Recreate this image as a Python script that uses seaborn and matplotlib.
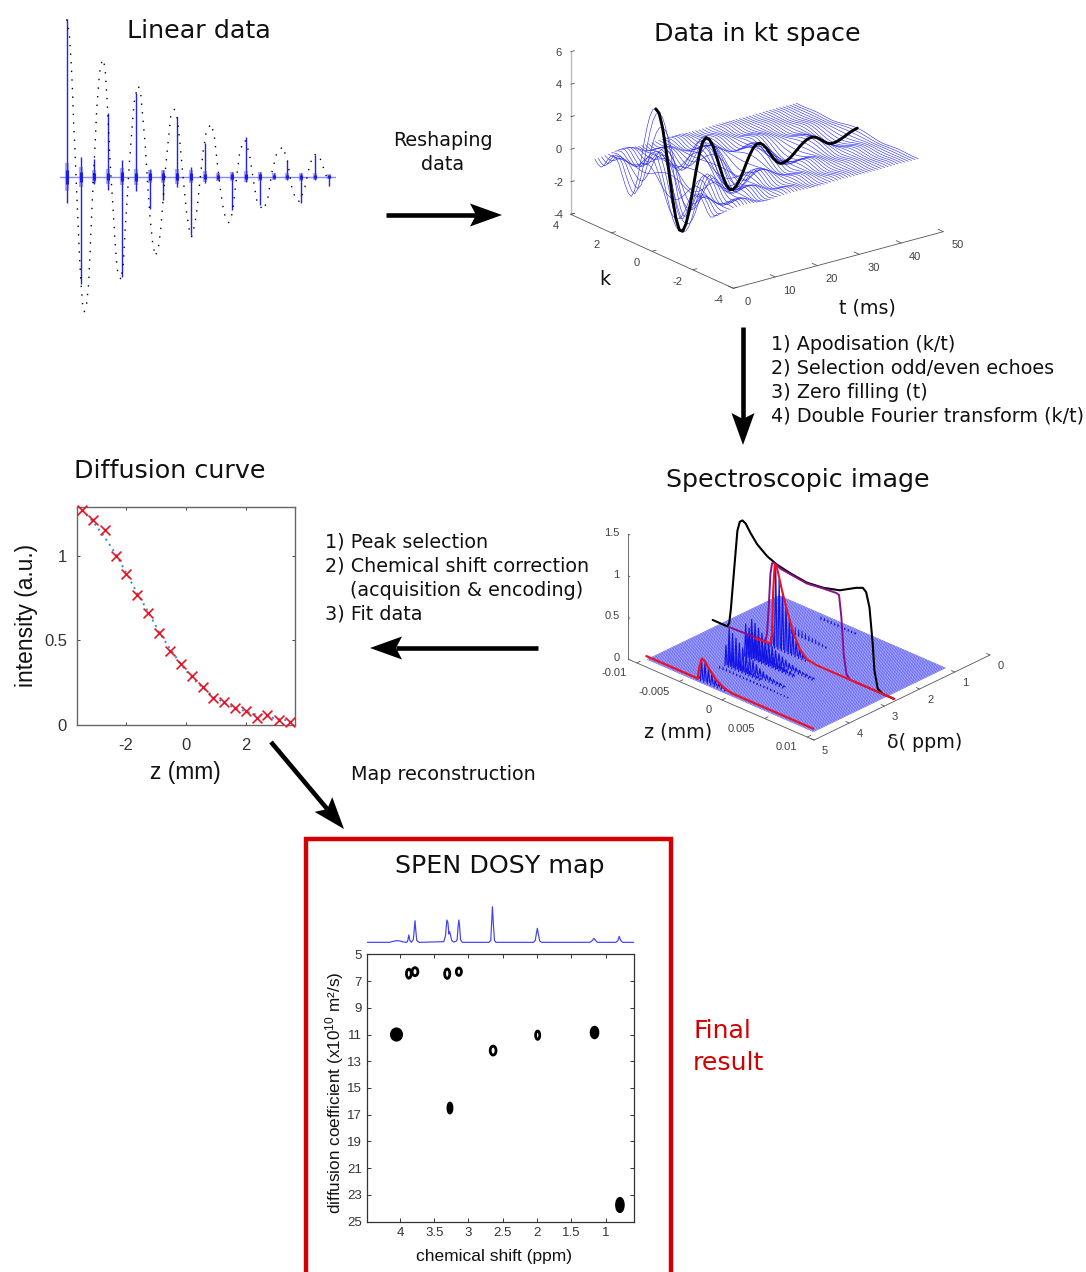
import numpy as np
import matplotlib
matplotlib.use("Agg")
import matplotlib.pyplot as plt
import seaborn as sns
from matplotlib.patches import Ellipse
from mpl_toolkits.mplot3d import proj3d

# ---------- data ----------
# Linear data
linear_t = [0,8,13,17,21,25,28,33,38,43,48,53,60,66,71,75,80,85,90,96,101,108,115,120,125,130,135,140,146,152,163,
            170,176,182,188,195,202,208,215,222,230,236,242,250,258,266,275,282,290,298,305,312,323,331,340,350,360,368,375,
            385,392,400,410,418,432,442,452,462,472,486,497,510,520,535,548,560,570,588,602,615,630,648,662,675,688,700,
            715,728,740,753,765,775,787]
linear_env = [472,430,350,270,160,80,0,-110,-230,-320,-385,-405,-380,-320,-210,-110,-10,90,200,280,330,352,330,250,160,50,-30,-110,-210,-280,-310,
              -260,-150,-60,40,130,220,250,272,250,160,90,-10,-120,-200,-238,-215,-160,-60,40,110,180,202,180,100,-10,-110,-160,-180,
              -140,-90,-10,80,130,158,130,40,-45,-110,-138,-110,0,80,110,70,-10,-70,-100,-75,10,70,90,50,-30,-70,-75,
              -30,30,65,68,45,10,-15]
echo_t = [0,42,83,125,165,208,250,289,330,372,414,455,496,538,580,622,662,703,745,787]
echo_up = [472,60,52,190,50,250,22,20,180,30,102,10,15,120,15,10,48,12,65,5]
echo_dn = [-78,-322,-22,-40,-300,-42,-98,-70,-32,-175,-20,-10,-100,-15,-85,-7,-10,-78,-10,-28]
echo_core = [42,30,20,22,26,24,20,20,22,20,16,12,14,16,14,10,10,12,10,8]
linear_base_t = [-20, 808]
linear_base_y = [0, 0]

# Data in kt space
kt_t = [0.9,1.7,2.5,3.3,4.1,4.9,5.7,6.5,7.3,8.1,8.9,9.7,10.5,11.3,12.1,12.9,13.7,14.5,15.3,16.1,16.9,17.7,18.5,19.3,20.1,20.9,21.7,22.5,23.3,24.1,24.9,
        25.7,26.5,27.3,28.1,28.9,29.7,30.5,31.3,32.1,32.9,33.7,34.5,35.3,36.1,36.9,37.7,38.5,39.3,40.1,40.9,41.7,42.5,43.3,44.1,44.9,45.7,46.5,47.3,48.1,48.9]
kt_amp = [4.70,4.37,3.44,2.06,0.46,-1.11,-2.38,-3.14,-3.28,-2.87,-2.04,-0.94,0.23,1.24,1.90,2.10,1.91,1.47,0.82,0.09,-0.61,-1.17,-1.49,-1.54,-1.37,-1.04,-0.61,-0.12,0.32,0.67,0.86,
          0.86,0.70,0.42,0.07,-0.28,-0.56,-0.72,-0.73,-0.66,-0.54,-0.365,-0.17,0.02,0.185,0.305,0.365,0.35,0.25,0.09,-0.09,-0.25,-0.34,-0.345,-0.31,-0.24,-0.147,-0.047,0.05,0.12,0.17]
kt_k = [-3.00,-2.85,-2.70,-2.55,-2.40,-2.25,-2.10,-1.95,-1.80,-1.65,-1.50,-1.35,-1.20,-1.05,-0.90,-0.75,-0.60,-0.45,-0.30,-0.15,0.00,
        0.15,0.30,0.45,0.60,0.75,0.90,1.05,1.20,1.35,1.50,1.65,1.80,1.95,2.10,2.25,2.40,2.55,2.70,2.85,3.00]
kt_shape = [-0.02,-0.07,-0.09,-0.05,0.03,0.10,0.14,0.12,0.05,-0.07,-0.18,-0.27,-0.29,-0.20,-0.02,0.20,0.45,0.68,0.86,0.97,1.00,
            0.97,0.86,0.68,0.45,0.20,-0.02,-0.20,-0.29,-0.27,-0.18,-0.07,0.05,0.12,0.14,0.10,0.03,-0.05,-0.09,-0.07,-0.02]
kt_t_ticks = [0,10,20,30,40,50]
kt_k_ticks = [4,2,0,-2,-4]
kt_z_ticks = [-4,-2,0,2,4,6]

# Spectroscopic image
si_line_ppm = 2.65
si_front_ppm = 4.66
black_z = [-0.0108,-0.00906,-0.00886,-0.00867,-0.00828,-0.00790,-0.00762,-0.00731,-0.00693,-0.00635,-0.00557,-0.00441,-0.00325,-0.00170,0.00024,0.00217,0.00411,0.00605,0.00682,0.00721,0.00760,0.00798,0.00818,0.00857,0.00915,0.0105]
black_h = [0,0,0.05,0.22,0.72,1.20,1.32,1.35,1.33,1.24,1.14,1.05,1.00,0.966,0.94,0.964,1.02,1.136,1.17,1.136,0.97,0.55,0.24,0.036,0,0]
magenta_z = [-0.0089,-0.00460,-0.00441,-0.00422,-0.00402,-0.00383,-0.00356,-0.00286,-0.0017,0.00024,0.00217,0.00372,0.00403,0.00430,0.00457,0.00489,0.00527,0.0105]
magenta_h = [0,0.02,0.13,0.45,0.86,0.99,1.01,0.97,0.955,0.93,0.955,0.97,0.96,0.71,0.28,0.054,0,0]
red_z = [-0.0058,-0.00402,-0.00383,-0.00371,-0.00352,-0.00325,-0.00267,-0.00209,-0.00131,-0.00054,0.00024,0.0014,0.0105]
red_h = [0,0.02,0.15,0.64,0.99,0.96,0.72,0.51,0.26,0.10,0.02,0,0]
front_z = [-0.01028,-0.00425,-0.00406,-0.00378,-0.00347,-0.00289,-0.00211,-0.00133,-0.00036,0.0093]
front_h = [0,0,0.15,0.26,0.25,0.17,0.08,0.03,0,0]
ridge_ppm = [4.66,4.05,3.87,3.78,3.31,3.27,3.14,2.65,2.0,1.17]
ridge_hw = [0.035,0.012,0.03,0.035,0.03,0.03,0.035,0.035,0.012,0.012]
ridge_lw = [0.9,0.55,0.9,0.9,0.9,0.9,0.9,0.9,0.55,0.55]
ridge_h = [
    [0.05,0.24,0.22,0.17,0.12,0.08,0.05,0.03,0.01],
    [0.03,0.03,0.03,0.03,0.03,0.02,0.02,0.02,0.02,0.02,0.02,0.02,0.02,0.02,0.02,0.02,0.02,0.01,0.01,0.01,0.01],
    [0.24,0.22,0.19,0.15,0.12,0.09,0.07,0.05,0.04,0.03,0.02],
    [0.42,0.38,0.34,0.30,0.26,0.22,0.19,0.16,0.13,0.10,0.08,0.06,0.05,0.04,0.03,0.03,0.02],
    [0.38,0.35,0.31,0.28,0.24,0.20,0.17,0.14,0.12,0.10,0.08,0.06,0.05,0.04,0.03],
    [0.24,0.20,0.18,0.15,0.12,0.10,0.08,0.06,0.05,0.04,0.03,0.02],
    [0.40,0.37,0.33,0.29,0.25,0.21,0.18,0.15,0.13,0.11,0.09,0.07,0.06,0.05,0.04,0.03,0.03,0.02,0.02],
    [0.02,0.30,0.95,0.83,0.70,0.55,0.41,0.28,0.19,0.11,0.06,0.02],
    [0.10,0.09,0.08,0.08,0.07,0.06,0.05,0.05,0.04,0.03,0.02],
    [0.03,0.03,0.03,0.03,0.03,0.03,0.03,0.02,0.02,0.02,0.02],
]
si_z_ticks = [-0.01,-0.005,0,0.005,0.01]
si_z_labels = ["-0.01","-0.005","0","0.005","0.01"]
si_ppm_ticks = [0,1,2,3,4,5]
si_h_ticks = [0,0.5,1,1.5]
si_h_labels = ["0","0.5","1","1.5"]

# Diffusion curve
diff_z = [-3.46,-3.09,-2.71,-2.34,-1.99,-1.63,-1.26,-0.90,-0.53,-0.17,0.19,0.56,0.91,1.27,1.63,2.00,2.36,2.71,3.09,3.47]
diff_i = [1.27,1.21,1.15,1.00,0.89,0.77,0.66,0.545,0.435,0.36,0.29,0.225,0.16,0.135,0.10,0.085,0.04,0.06,0.03,0.02]
diff_fit = [1.27,1.20,1.11,1.01,0.90,0.78,0.67,0.55,0.45,0.36,0.28,0.22,0.17,0.13,0.10,0.08,0.06,0.05,0.035,0.025]

# DOSY spectrum and map
spec_ppm = [4.476,4.15,4.10,4.05,4.00,3.95,3.90,3.885,3.87,3.855,3.835,3.805,3.79,3.78,3.77,3.755,3.72,3.36,3.335,3.315,3.30,3.285,3.275,3.26,3.245,3.22,3.18,
            3.165,3.15,3.14,3.13,3.115,3.09,2.70,2.675,2.665,2.65,2.635,2.62,2.60,2.05,2.025,2.01,1.995,1.98,1.96,1.93,1.23,1.19,1.17,1.15,1.12,0.85,0.82,0.80,0.78,0.75,0.58]
spec_int = [0,0,3,5,4,1,0,6,22,6,0,8,40,65,40,6,0,2,20,67,60,25,32,20,6,1,3,
            8,50,67,50,8,0,0,6,45,107,50,6,0,0,6,25,42,25,4,0,0,6,12,7,0,0,5,18,6,0,0]
dosy_ppm = [4.05,3.87,3.78,3.31,3.14,2.64,1.99,1.16,3.27,0.79]
dosy_d = [11.0,6.45,6.3,6.45,6.3,12.2,11.05,10.85,16.5,23.75]
dosy_w = [0.15,0.07,0.085,0.075,0.075,0.085,0.06,0.10,0.06,0.10]
dosy_h = [0.85,0.67,0.60,0.70,0.55,0.67,0.62,0.80,0.75,1.00]
dosy_filled = [True,False,False,False,False,False,False,True,True,True]
dosy_xticks = [4,3.5,3,2.5,2,1.5,1]
dosy_xlabels = ["4","3.5","3","2.5","2","1.5","1"]
dosy_yticks = [5,7,9,11,13,15,17,19,21,23,25]

# ---------- figure ----------
W, H = 1086, 1272
sns.set_theme(style="white", rc={"mathtext.default": "regular"})
plt.rcParams["font.family"] = ["DejaVu Sans"]
fig = plt.figure(figsize=(W / 100, H / 100), dpi=100, facecolor="white")


def rect(x0, y0, x1, y1):
    return [x0 / W, 1 - y1 / H, (x1 - x0) / W, (y1 - y0) / H]


bg = fig.add_axes([0, 0, 1, 1], zorder=10)
bg.set_xlim(0, W)
bg.set_ylim(H, 0)
bg.axis("off")
bg.patch.set_visible(False)

HEAD = 18.3
BODY = 13.8
DY = 1.5
for s, x, y, fs in [("Linear data", 199, 30, HEAD), ("Data in kt space", 757, 33, HEAD),
                    ("Spectroscopic image", 798, 479, HEAD), ("Diffusion curve", 170, 469, HEAD),
                    ("SPEN DOSY map", 500, 865, HEAD), ("Reshaping", 443, 139, BODY), ("data", 443, 163, BODY),
                    ("Map reconstruction", 443, 773, BODY)]:
    bg.text(x, y + DY, s, ha="center", va="center", fontsize=fs, color="#111111")
for s, x, y in [("1) Apodisation (k/t)", 771, 343), ("2) Selection odd/even echoes", 771, 367),
                ("3) Zero filling (t)", 771, 391), ("4) Double Fourier transform (k/t)", 771, 415),
                ("1) Peak selection", 325, 541), ("2) Chemical shift correction", 325, 565),
                ("(acquisition & encoding)", 350, 589), ("3) Fit data", 325, 613)]:
    bg.text(x, y + DY, s, ha="left", va="center", fontsize=BODY, color="#111111")
for s, x, y in [("Final", 693, 1029), ("result", 693, 1061)]:
    bg.text(x, y + DY, s, ha="left", va="center", fontsize=18.2, color="#d40000")
for s, x, y in [("k", 605, 278), ("t (ms)", 867, 306), ("z (mm)", 678, 730), ("δ( ppm)", 925, 741)]:
    bg.text(x, y + DY, s, ha="center", va="center", fontsize=13.7, color="#111111")


def arrow(p0, p1):
    p0 = np.array(p0, float)
    p1 = np.array(p1, float)
    u = (p1 - p0) / np.linalg.norm(p1 - p0)
    n = np.array([-u[1], u[0]])
    bg.plot([p0[0], (p1 - 26 * u)[0]], [p0[1], (p1 - 26 * u)[1]], color="black", lw=3.3, solid_capstyle="butt")
    poly = np.array([p1, p1 - 32 * u + 11.5 * n, p1 - 26 * u, p1 - 32 * u - 11.5 * n])
    bg.fill(poly[:, 0], poly[:, 1], color="black", lw=0)


for p0, p1 in [((386, 215), (502, 215)), ((743, 327), (743, 445)), ((538, 648), (370, 648)), ((271, 742), (344, 829))]:
    arrow(p0, p1)
bg.plot([305.5, 305.5, 670.5, 670.5], [1272, 839, 839, 1272], color="#d40000", lw=3.2,
        solid_joinstyle="miter")

# ---------- Linear data ----------
ax = fig.add_axes(rect(60, 15, 336, 315))
ax.set_xlim(-20, 808)
ax.set_ylim(-415, 485)
sns.lineplot(x=linear_base_t, y=linear_base_y, ax=ax, color="#8a8af5", linewidth=1.0, estimator=None)
ax.vlines(echo_t, echo_dn, echo_up, color="#2222ea", lw=1.0)
ax.vlines(echo_t, -np.array(echo_core), echo_core, color="#4444f0", lw=3.0, alpha=0.45)
ax.vlines(echo_t, -0.5 * np.array(echo_core), 0.5 * np.array(echo_core), color="#1c1ce6", lw=2.2)
sns.lineplot(x=linear_t, y=linear_env, ax=ax, color="black", linewidth=1.0, linestyle=(0, (1, 5.2)),
             estimator=None, sort=False)
ax.set_xlabel("")
ax.set_ylabel("")
ax.set_xticks([])
ax.set_yticks([])
ax.axis("off")


# ---------- 3D helper ----------
def place3d(a, pts3d, pts_px):
    pts3d = np.array(pts3d, float)
    pts_px = np.array(pts_px, float)

    def disp():
        a.apply_aspect()
        xx, yy, _ = proj3d.proj_transform(pts3d[:, 0], pts3d[:, 1], pts3d[:, 2], a.get_proj())
        d = a.transData.transform(np.c_[xx, yy])
        d[:, 1] = H - d[:, 1]
        return d

    S = 500.0
    a.set_position(rect(100, 100, 100 + S, 100 + S))
    d = disp()
    scale = np.linalg.norm(pts_px[1] - pts_px[2]) / np.linalg.norm(d[1] - d[2])
    S *= scale
    a.set_position(rect(100, 100, 100 + S, 100 + S))
    d = disp()
    sx, sy = (pts_px - d).mean(axis=0)
    a.set_position(rect(100 + sx, 100 + sy, 100 + sx + S, 100 + sy + S))
    a.apply_aspect()


def bare3d(a):
    a.set_axis_off()
    a.patch.set_visible(False)
    a.set_xticks([])
    a.set_yticks([])
    a.set_zticks([])


def label3d(a, x, y, z, s, ha="center"):
    xx, yy, _ = proj3d.proj_transform(x, y, z, a.get_proj())
    d = a.transData.transform((xx, yy))
    bg.text(d[0], H - d[1], s, ha=ha, va="center", fontsize=8, color="#404040", family="Liberation Sans")


# ---------- Data in kt space ----------
a3 = fig.add_axes(rect(500, 0, 1000, 500), projection="3d", proj_type="ortho", computed_zorder=False)
bare3d(a3)
a3.set_xlim(0, 50)
a3.set_ylim(-4, 4)
a3.set_zlim(-4, 6)
a3.view_init(elev=20.5, azim=-127.6)
a3.set_box_aspect((265, 266.6, 173.6))
place3d(a3, [(0, -4, -4), (50, -4, -4), (0, 4, -4)], [(733.3, 288.3), (943.3, 231.7), (570.7, 214.3)])
AX = "#555555"
a3.plot([0, 0], [4, 4], [-4, 6], color="#bbbbbb", lw=1.0, zorder=1)
a3.plot([0, 0], [4, -4], [-4, -4], color=AX, lw=0.6, zorder=1)
a3.plot([0, 50], [-4, -4], [-4, -4], color=AX, lw=0.6, zorder=1)
for v in kt_z_ticks:
    a3.plot([0, 0.9], [4, 4], [v, v], color=AX, lw=0.6, zorder=1)
    label3d(a3, -2.8, 4, v + 0.13, str(v))
for v in kt_k_ticks:
    a3.plot([0, 1.0], [v, v], [-4, -4], color=AX, lw=0.6, zorder=1)
    label3d(a3, -3.57, v, -4.49, str(v))
for v in kt_t_ticks:
    a3.plot([v, v], [-4, -3.75], [-4, -4], color=AX, lw=0.6, zorder=1)
    label3d(a3, v, -4.69, -4.45, str(v))
for ti, amp in zip(kt_t, kt_amp):
    a3.plot(np.full(len(kt_k), ti), kt_k, amp * np.array(kt_shape), color="#2a2af0", lw=0.42, zorder=2)
a3.plot(kt_t, np.zeros(len(kt_t)), kt_amp, color="black", lw=2.1, zorder=3, solid_joinstyle="round")

# ---------- Spectroscopic image ----------
s3 = fig.add_axes(rect(500, 400, 1000, 900), projection="3d", proj_type="ortho", computed_zorder=False)
bare3d(s3)
s3.set_xlim(0, 5)
s3.set_ylim(-0.0108, 0.0108)
s3.set_zlim(0, 1.5)
s3.view_init(elev=27.3, azim=43.5)
s3.set_box_aspect((255.6, 253.7, 140.6))
place3d(s3, [(5, -0.0108, 0), (5, 0.0108, 0), (0, 0.0108, 0)], [(630, 660), (814, 740), (990, 655)])
s3.plot([5, 5], [-0.0110, -0.0110], [0, 1.5], color=AX, lw=0.6, zorder=1)
s3.plot([5, 5], [-0.0108, 0.0108], [0, 0], color=AX, lw=0.6, zorder=1)
s3.plot([0, 5], [0.0108, 0.0108], [0, 0], color=AX, lw=0.6, zorder=1)
for v, lab in zip(si_h_ticks, si_h_labels):
    s3.plot([5, 5], [-0.0110, -0.0108], [v, v], color=AX, lw=0.6, zorder=1)
    label3d(s3, 5, -0.0120, v - 0.03, lab, ha="right")
for v, lab in zip(si_z_ticks, si_z_labels):
    s3.plot([5, 4.9], [v, v], [0, 0], color=AX, lw=0.6, zorder=1)
    label3d(s3, 5.28, v, -0.065, lab, ha="right")
for v in si_ppm_ticks:
    s3.plot([v, v], [0.0108, 0.0104], [0, 0], color=AX, lw=0.6, zorder=1)
    label3d(s3, v, 0.01205, -0.072, str(v))

plate_ppm = np.linspace(1.0, 4.75, 110)
plate_z = np.linspace(-0.0098, 0.0097, 110)
PX, PZ = np.meshgrid(plate_ppm, plate_z)
s3.plot_wireframe(PX, PZ, np.zeros_like(PX), rcount=110, ccount=110, color="#3a3af2", lw=0.3, zorder=1.5)

stem_z0 = -0.0042
stem_dz = 0.0004
for ppm, hw, lw, hs in zip(ridge_ppm, ridge_hw, ridge_lw, ridge_h):
    for j, h in enumerate(hs):
        zz = stem_z0 + j * stem_dz
        s3.plot([ppm - hw, ppm, ppm + hw], [zz, zz, zz], [0, h, 0], color="#1515e6", lw=lw, zorder=2)
s3.plot(np.full(len(black_z), si_line_ppm), black_z, black_h, color="black", lw=1.5, zorder=3)
s3.plot(np.full(len(magenta_z), si_line_ppm), magenta_z, magenta_h, color="#8a108a", lw=1.4, zorder=4)
s3.plot(np.full(len(red_z), si_line_ppm), red_z, red_h, color="#ee1122", lw=1.5, zorder=5)
s3.plot(np.full(len(front_z), si_front_ppm), front_z, front_h, color="#ee1122", lw=1.6, zorder=5)

# ---------- Diffusion curve ----------
d2 = fig.add_axes(rect(76.7, 506.7, 295, 725))
sns.lineplot(x=diff_z, y=diff_fit, ax=d2, color="#2a8fd0", linewidth=1.4, linestyle=(0, (1, 2.2)),
             estimator=None, sort=False)
sns.scatterplot(x=diff_z, y=diff_i, ax=d2, marker="x", color="#ee1122", s=50, linewidth=1.2, clip_on=False, zorder=3)
d2.set_xlim(-3.64, 3.63)
d2.set_ylim(0, 1.29)
d2.set_xticks([-2, 0, 2], ["-2", "0", "2"])
d2.set_yticks([0, 0.5, 1], ["0", "0.5", "1"])
d2.tick_params(direction="in", length=2.5, width=0.7, top=True, right=True, bottom=True, left=True,
               labelsize=12, labelcolor="#333333", color="#444444")
d2.tick_params(axis="x", pad=9)
d2.tick_params(axis="y", pad=7)
for lab in d2.get_xticklabels() + d2.get_yticklabels():
    lab.set_family("Liberation Sans")
for sp_ in d2.spines.values():
    sp_.set_color("#666666")
    sp_.set_linewidth(1.0)
d2.set_xlabel("z (mm)", fontsize=16.4, family="Liberation Sans", color="#111111", labelpad=6)
d2.set_ylabel("intensity (a.u.)", fontsize=16.4, family="Liberation Sans", color="#111111", labelpad=4)

# ---------- DOSY spectrum ----------
sp = fig.add_axes(rect(367.3, 900, 634.3, 948))
sns.lineplot(x=spec_ppm, y=spec_int, ax=sp, color="#4040f2", linewidth=0.85, estimator=None, sort=False)
sp.set_xlim(4.476, 0.58)
sp.set_ylim(-17, 127)
sp.set_xlabel("")
sp.set_ylabel("")
sp.set_xticks([])
sp.set_yticks([])
sp.axis("off")

# ---------- DOSY map ----------
m = fig.add_axes(rect(367.3, 954.3, 634.3, 1221.7))
sns.scatterplot(x=dosy_ppm, y=dosy_d, ax=m, s=1, color="black")
for x, y, w, h, fl in zip(dosy_ppm, dosy_d, dosy_w, dosy_h, dosy_filled):
    m.add_patch(Ellipse((x, y), w, h, facecolor="black" if fl else "white", edgecolor="black", lw=2.0))
m.set_xlim(4.476, 0.58)
m.set_ylim(25, 5)
m.set_xticks(dosy_xticks, dosy_xlabels)
m.set_yticks(dosy_yticks, [str(v) for v in dosy_yticks])
m.tick_params(direction="in", length=3, width=0.7, top=True, right=True, bottom=True, left=True,
              labelsize=9.5, labelcolor="#333333", color="#333333", pad=4)
for lab in m.get_xticklabels() + m.get_yticklabels():
    lab.set_family("Liberation Sans")
for s_ in m.spines.values():
    s_.set_color("#333333")
    s_.set_linewidth(0.9)
m.set_xlabel("chemical shift (ppm)", fontsize=12.5, family="Liberation Sans", color="#111111")
m.set_ylabel("diffusion coefficient (x10$^{10}$ m²/s)", fontsize=12.3, family="Liberation Sans", color="#111111")
m.xaxis.set_label_coords((494 - 367.3) / 267, (1221.7 - 1257) / 267.4, transform=m.transAxes)
m.yaxis.set_label_coords((335 - 367.3) / 267, (1221.7 - 1093) / 267.4, transform=m.transAxes)
m.xaxis.label.set_va("center")
m.yaxis.label.set_va("center")

fig.savefig("out.png", dpi=100, facecolor="white")
